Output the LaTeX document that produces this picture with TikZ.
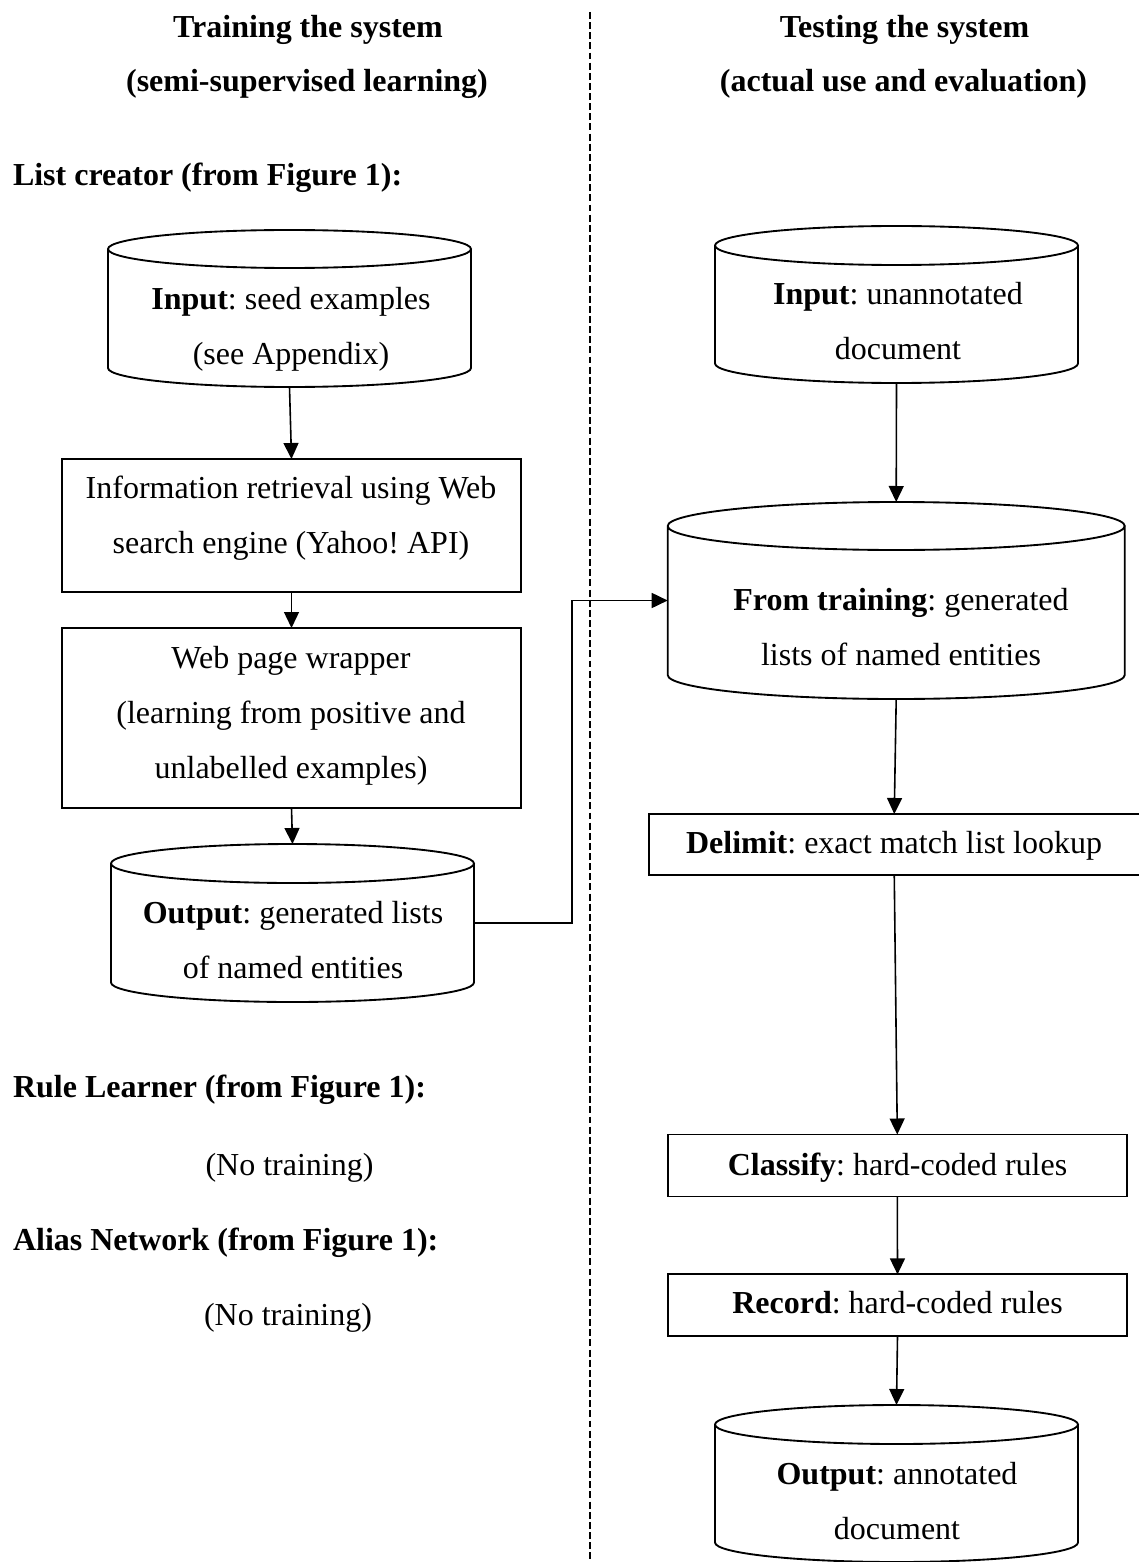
\documentclass[tikz,border=0pt]{standalone}
\usepackage{fontspec}
\setmainfont{Liberation Serif}
\usetikzlibrary{arrows.meta}
\frenchspacing
% centred multi-line text whose reference point is the first baseline
\newcommand\stack[1]{\begin{tabular}[t]{@{}c@{}}#1\end{tabular}}

\begin{document}
\begin{tikzpicture}[x=0.375pt,y=-0.375pt,
  every node/.style={font=\fontsize{12}{20.625}\selectfont, inner sep=0pt, outer sep=0pt},
  txt/.style={anchor=base},
  head/.style={anchor=base west, font=\fontsize{12}{20.625}\selectfont\bfseries},
  coltitle/.style={anchor=base, font=\fontsize{12}{20.625}\selectfont\bfseries},
  procbox/.style={draw, line width=0.7pt},
  dbbody/.style={draw=none},
  dbline/.style={line width=0.7pt},
  flow/.style={line width=0.6pt, -{Triangle[length=6pt,width=5.6pt]}},
  feed/.style={line width=0.7pt, -{Triangle[length=6pt,width=5.6pt]}},
  divider/.style={line width=0.55pt, dash pattern=on 2.6pt off 1.2pt}]

\useasboundingbox (0,0) rectangle (1138,1562);

% column divider
\coordinate (dtop) at (590,12);
\coordinate (dbot) at (590,1562);
\draw[divider] (dtop) -- (dbot);

% column titles and section headings
\node[coltitle] (t1) at (308,37.3) {Training the system};
\node[coltitle] (t2) at (307,91.7) {(semi-supervised learning)};
\node[coltitle] (t3) at (904.5,37.3) {Testing the system};
\node[coltitle] (t4) at (903.5,91.7) {(actual use and evaluation)};
\node[head] (h1) at (13,185.5) {List creator (from Figure 1):};
\node[head] (h2) at (13,1097) {Rule Learner (from Figure 1):};
\node[txt]  (n1) at (289.5,1175) {(No training)};
\node[head] (h3) at (13,1250) {Alias Network (from Figure 1):};
\node[txt]  (n2) at (288,1325) {(No training)};

% training column shapes
\node[dbbody, minimum width=136.125pt, minimum height=58.875pt] (in1) at (289.5,308.5) {};
\node[procbox, minimum width=172.125pt, minimum height=49.875pt] (ir) at (291.5,525.5) {};
\node[procbox, minimum width=172.125pt, minimum height=67.5pt] (wr) at (291.5,718) {};
\node[dbbody, minimum width=136.125pt, minimum height=59.25pt] (out1) at (292.5,923) {};

% testing column shapes
\node[dbbody, minimum width=136.125pt, minimum height=58.875pt] (in2) at (896.5,304.5) {};
\node[dbbody, minimum width=171.375pt, minimum height=73.875pt] (ft) at (896.2,600.5) {};
\node[procbox, minimum width=183.94pt, minimum height=22.875pt] (dl) at (894.25,844.5) {};
\node[procbox, minimum width=172.3pt, minimum height=23.25pt] (cl) at (897.3,1165.5) {};
\node[procbox, minimum width=172.3pt, minimum height=23.1pt] (rc) at (897.5,1305.2) {};
\node[dbbody, minimum width=136.125pt, minimum height=58.875pt] (out2) at (896.5,1483.5) {};

% cylinder outlines drawn around the database bodies
\foreach \nm/\hw/\rr in {in1/68.0625/7.125, out1/68.0625/7.3125, in2/68.0625/7.3125,
                         ft/85.6875/9, out2/68.0625/7.3125}
  \draw[dbline] ([yshift=-\rr pt]\nm.north west)
      arc[start angle=180, end angle=360, x radius=\hw pt, y radius=\rr pt]
      arc[start angle=0, end angle=180, x radius=\hw pt, y radius=\rr pt]
      -- ([yshift=\rr pt]\nm.south west)
      arc[start angle=180, end angle=360, x radius=\hw pt, y radius=\rr pt]
      -- ([yshift=-\rr pt]\nm.north east);

% texts of the shapes
\node[txt] (in1t) at (291,309) {\stack{\textbf{Input}: seed examples\\(see Appendix)}};
\node[txt] (irt) at (291,498) {\stack{Information retrieval using Web\\search engine (Yahoo! API)}};
\node[txt] (wrt) at (291,668) {\stack{Web page wrapper\\(learning from positive and\\unlabelled examples)}};
\node[txt] (out1t) at (293,923) {\stack{\textbf{Output}: generated lists\\of named entities}};
\node[txt] (in2t) at (898,305) {\stack{\textbf{Input}: unannotated\\document}};
\node[txt] (ftt) at (901,610) {\stack{\textbf{From training}: generated\\lists of named entities}};
\node[txt] (dlt) at (894,853) {\textbf{Delimit}: exact match list lookup};
\node[txt] (clt) at (897.5,1175) {\textbf{Classify}: hard-coded rules};
\node[txt] (rct) at (897.6,1313.5) {\textbf{Record}: hard-coded rules};
\node[txt] (out2t) at (897,1484) {\stack{\textbf{Output}: annotated\\document}};

% flow arrows
\draw[flow] (in1.south) -- (ir.north);
\draw[flow] (ir.south) -- (wr.north);
\draw[flow] (wr.south) -- (out1.north);
\draw[flow] (in2.south) -- (ft.north);
\draw[flow] (ft.south) -- (dl.north);
\draw[flow] (dl.south) -- (cl.north);
\draw[flow] (cl.south) -- (rc.north);
\draw[flow] (rc.south) -- (out2.north);

% generated lists handed over to the testing side
\coordinate (jog) at (572,922);
\draw[feed] (out1.east) -| (jog |- ft.west) -- (ft.west);
\end{tikzpicture}
\end{document}
